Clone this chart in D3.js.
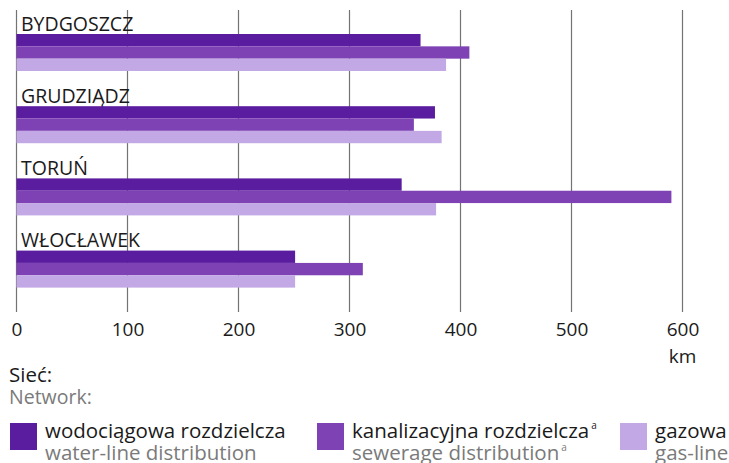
<!DOCTYPE html>
<html>
<head>
<meta charset="utf-8">
<script src="https://cdn.jsdelivr.net/npm/d3@7"></script>
<style>
  body { margin: 0; background: #fff; }
  text { font-family: "Open Sans", "Noto Sans", sans-serif; }
</style>
</head>
<body>
<script>
// data

const cities = ["BYDGOSZCZ", "GRUDZIĄDZ", "TORUŃ", "WŁOCŁAWEK"];
const series = ["water", "sewer", "gas"];
const water = [364, 377, 347, 251];
const sewer = [408, 358, 590, 312];
const gas = [387, 383, 378, 251];
const ticks = [0, 100, 200, 300, 400, 500, 600];

const colors = ["#5b1d9f", "#7e42b5", "#c2a8e5"];
const legendPl = ["wodociągowa rozdzielcza", "kanalizacyjna rozdzielcza", "gazowa"];
const legendEn = ["water-line distribution", "sewerage distribution", "gas-line"];
const legendSup = [false, true, false];

// chart

const w = 729;
const h = 463;

const svg = d3.select("body").append("svg")
  .attr("width", w)
  .attr("height", h);

const x = d3.scaleLinear()
  .domain([0, 600])
  .range([16.5, 682.5]);

const y = d3.scaleBand()
  .domain(cities)
  .range([34, 287.6])
  .paddingInner(0.4875)
  .paddingOuter(0);

const ySub = d3.scaleBand()
  .domain(series)
  .range([0, y.bandwidth()]);

// gridlines + ticks

svg.append("g")
  .selectAll("line")
  .data(ticks)
  .enter()
  .append("line")
  .attr("x1", d => x(d))
  .attr("x2", d => x(d))
  .attr("y1", 10)
  .attr("y2", 312)
  .attr("stroke", "#737373")
  .attr("stroke-width", 1.2);

const xAxis = d3.axisBottom(x)
  .tickValues(ticks)
  .tickSize(0)
  .tickPadding(0);

const ax = svg.append("g")
  .attr("transform", "translate(0, 318)")
  .call(xAxis);
ax.select(".domain").remove();
ax.selectAll("text")
  .attr("font-size", 19)
  .attr("fill", "#1a1a1a")
  .attr("font-family", "Open Sans")
  .attr("dy", "0.95em");

svg.append("text")
  .attr("x", x(600))
  .attr("y", 363)
  .attr("text-anchor", "middle")
  .attr("font-size", 19)
  .attr("fill", "#1a1a1a")
  .text("km");

// bars

const rows = [water, sewer, gas];

const groups = svg.selectAll(".city")
  .data(cities)
  .enter()
  .append("g")
  .attr("class", "city")
  .attr("transform", d => "translate(0," + y(d) + ")");

groups.append("text")
  .attr("x", 21)
  .attr("y", -3.5)
  .attr("font-size", 19.5)
  .attr("fill", "#1a1a1a")
  .text(d => d);

groups.selectAll("rect")
  .data((d, i) => series.map((s, j) => ({ s: s, v: rows[j][i], c: colors[j] })))
  .enter()
  .append("rect")
  .attr("x", x(0))
  .attr("y", d => ySub(d.s))
  .attr("width", d => x(d.v) - x(0))
  .attr("height", ySub.bandwidth())
  .attr("fill", d => d.c);

// legend

svg.append("text")
  .attr("x", 9)
  .attr("y", 382)
  .attr("font-size", 20.5)
  .attr("fill", "#1a1a1a")
  .text("Sieć:");

svg.append("text")
  .attr("x", 9)
  .attr("y", 404)
  .attr("font-size", 19.5)
  .attr("fill", "#7a7a7a")
  .text("Network:");

const legX = [10, 317, 620];

const leg = svg.selectAll(".leg")
  .data(series)
  .enter()
  .append("g")
  .attr("class", "leg")
  .attr("transform", (d, i) => "translate(" + legX[i] + ", 423)");

leg.append("rect")
  .attr("width", 27)
  .attr("height", 27)
  .attr("fill", (d, i) => colors[i]);

const pl = leg.append("text")
  .attr("x", 35)
  .attr("y", 15)
  .attr("font-size", 20.5)
  .attr("fill", "#1a1a1a")
  .text((d, i) => legendPl[i]);
pl.filter((d, i) => legendSup[i])
  .append("tspan")
  .attr("font-size", 10)
  .attr("dx", 2)
  .attr("dy", -9)
  .text("a");

const en = leg.append("text")
  .attr("x", 35)
  .attr("y", 37)
  .attr("font-size", 20.5)
  .attr("fill", "#7a7a7a")
  .text((d, i) => legendEn[i]);
en.filter((d, i) => legendSup[i])
  .append("tspan")
  .attr("font-size", 10)
  .attr("dx", 2)
  .attr("dy", -9)
  .text("a");
</script>
</body>
</html>
